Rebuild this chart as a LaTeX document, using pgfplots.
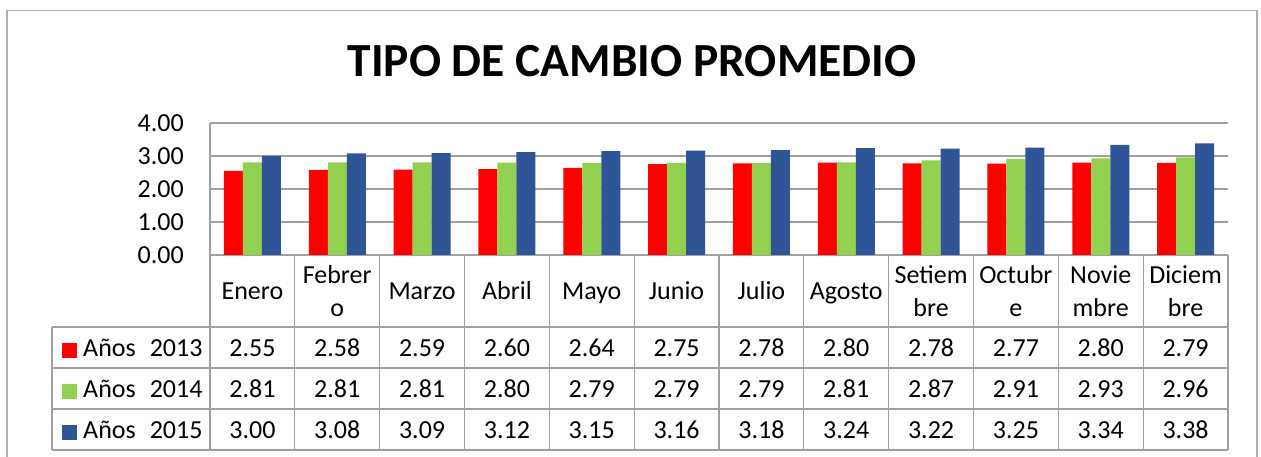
\documentclass[border=0pt]{standalone}
\usepackage{pgfplots}
\pgfplotsset{compat=1.18}
\usepackage{pgfplotstable}
\usepackage{fontspec}
\setmainfont{Carlito}
\definecolor{c13}{HTML}{FF0000}
\definecolor{c14}{HTML}{92D050}
\definecolor{c15}{HTML}{2F5597}
\definecolor{gridgray}{HTML}{A0A0A0}
\definecolor{framegray}{HTML}{B0B0B0}

\pgfplotstableread{
x y2013 y2014 y2015
0 2.55 2.81 3.00
1 2.58 2.81 3.08
2 2.59 2.81 3.09
3 2.60 2.80 3.12
4 2.64 2.79 3.15
5 2.75 2.79 3.16
6 2.78 2.79 3.18
7 2.80 2.81 3.24
8 2.78 2.87 3.22
9 2.77 2.91 3.25
10 2.80 2.93 3.34
11 2.79 2.96 3.38
}\datatab

\newcommand\two[2]{\raisebox{16pt}{\begin{tabular}[t]{@{}c@{}}#1\\#2\end{tabular}}}
\newcommand\tabfont{\fontsize{26}{33}\selectfont}

\begin{document}
\begin{tikzpicture}[x=1pt,y=1pt]
\path[use as bounding box] (0,0) rectangle (1261,457);
\draw[framegray, line width=1.2pt] (7,-5) -- (7,446.5) -- (1257,446.5) -- (1257,-5);
\node[anchor=base, inner sep=0pt, font=\fontsize{47.5}{57}\selectfont\bfseries] at (632,380) {TIPO DE CAMBIO PROMEDIO};
\begin{axis}[
  at={(210pt,202pt)}, anchor=south west,
  scale only axis, width=1018pt, height=132pt,
  xmin=-0.5, xmax=11.5, ymin=0, ymax=4,
  clip=false,
  axis lines*=left,
  axis line style={gridgray, line width=1.2pt, -},
  ymajorgrids,
  grid style={gridgray, line width=1.2pt},
  ytick={0,1,2,3,4},
  xtick={0,...,11},
  xticklabels={Enero,{\two{Febrer}{o}},Marzo,Abril,Mayo,Junio,Julio,Agosto,{\two{Setiem}{bre}},{\two{Octubr}{e}},{\two{Novie}{mbre}},{\two{Diciem}{bre}}},
  tick style={draw=none},
  major tick length=0pt,
  ticklabel style={font=\tabfont},
  yticklabel style={anchor=east, inner sep=0pt, xshift=-26pt},
  xticklabel style={anchor=base, inner sep=0pt, yshift=-45pt},
  /pgf/number format/.cd, fixed, fixed zerofill, precision=2, assume math mode=true
]
\addplot[ybar, bar width=19pt, bar shift=-19pt, fill=c13, draw=none] table[x=x,y=y2013]{\datatab};
\addplot[ybar, bar width=19pt, bar shift=0pt, fill=c14, draw=none] table[x=x,y=y2014]{\datatab};
\addplot[ybar, bar width=19pt, bar shift=19pt, fill=c15, draw=none] table[x=x,y=y2015]{\datatab};

\addplot[draw=none, mark=none, point meta=explicit, nodes near coords,
  nodes near coords style={anchor=base, inner sep=0pt, text=black, font=\tabfont}]
  table[x=x, y expr=-3.091, meta=y2013]{\datatab};
\addplot[draw=none, mark=none, point meta=explicit, nodes near coords,
  nodes near coords style={anchor=base, inner sep=0pt, text=black, font=\tabfont}]
  table[x=x, y expr=-4.333, meta=y2014]{\datatab};
\addplot[draw=none, mark=none, point meta=explicit, nodes near coords,
  nodes near coords style={anchor=base, inner sep=0pt, text=black, font=\tabfont}]
  table[x=x, y expr=-5.576, meta=y2015]{\datatab};

\draw[gridgray, line width=1.2pt]
  (axis cs:-2.3625,-2.1818) -- (axis cs:11.5,-2.1818)
  (axis cs:-2.3625,-3.4242) -- (axis cs:11.5,-3.4242)
  (axis cs:-2.3625,-4.6667) -- (axis cs:11.5,-4.6667)
  (axis cs:-2.3625,-5.909) -- (axis cs:11.5,-5.909)
  (axis cs:-2.3625,-2.1818) -- (axis cs:-2.3625,-5.909)
  (axis cs:-0.5,0) -- (axis cs:-0.5,-5.909)
  (axis cs:0.5,0) -- (axis cs:0.5,-5.909)
  (axis cs:1.5,0) -- (axis cs:1.5,-5.909)
  (axis cs:2.5,0) -- (axis cs:2.5,-5.909)
  (axis cs:3.5,0) -- (axis cs:3.5,-5.909)
  (axis cs:4.5,0) -- (axis cs:4.5,-5.909)
  (axis cs:5.5,0) -- (axis cs:5.5,-5.909)
  (axis cs:6.5,0) -- (axis cs:6.5,-5.909)
  (axis cs:7.5,0) -- (axis cs:7.5,-5.909)
  (axis cs:8.5,0) -- (axis cs:8.5,-5.909)
  (axis cs:9.5,0) -- (axis cs:9.5,-5.909)
  (axis cs:10.5,0) -- (axis cs:10.5,-5.909)
  (axis cs:11.5,0) -- (axis cs:11.5,-5.909);

\node[anchor=base west, inner sep=0pt, font=\tabfont] at (axis cs:-2.2446,-3.091)
  {\textcolor{c13}{\rule[-1pt]{15pt}{15pt}}\hspace{6pt}Años\hspace{14pt}2013};
\node[anchor=base west, inner sep=0pt, font=\tabfont] at (axis cs:-2.2446,-4.333)
  {\textcolor{c14}{\rule[-1pt]{15pt}{15pt}}\hspace{6pt}Años\hspace{14pt}2014};
\node[anchor=base west, inner sep=0pt, font=\tabfont] at (axis cs:-2.2446,-5.576)
  {\textcolor{c15}{\rule[-1pt]{15pt}{15pt}}\hspace{6pt}Años\hspace{14pt}2015};
\end{axis}
\end{tikzpicture}
\end{document}
